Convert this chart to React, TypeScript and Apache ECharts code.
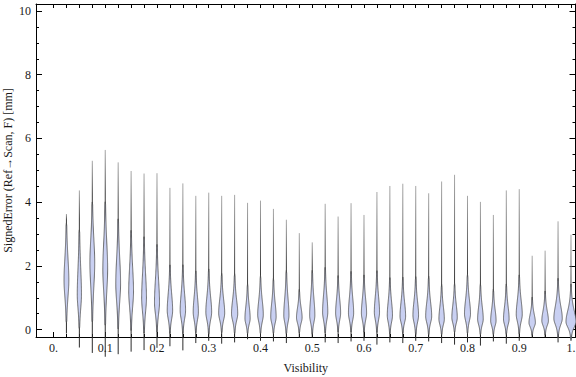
import React, { useEffect, useRef } from "react";
import * as echarts from "echarts";

// Violin positions (Visibility)
const visibility = [
  0.025, 0.05, 0.075, 0.1, 0.125, 0.15, 0.175, 0.2, 0.225, 0.25,
  0.275, 0.3, 0.325, 0.35, 0.375, 0.4, 0.425, 0.45, 0.475, 0.5,
  0.525, 0.55, 0.575, 0.6, 0.625, 0.65, 0.675, 0.7, 0.725, 0.75,
  0.775, 0.8, 0.825, 0.85, 0.875, 0.9, 0.925, 0.95, 0.975, 1.0,
];
// Extremes of each distribution (mm)
const errMax = [
  3.63, 4.37, 5.3, 5.64, 5.25, 4.98, 4.9, 4.91, 4.45, 4.59,
  4.2, 4.3, 4.2, 4.23, 3.98, 4.05, 3.79, 3.45, 3.03, 2.74,
  3.95, 3.55, 3.97, 3.6, 4.32, 4.51, 4.58, 4.51, 4.28, 4.65,
  4.86, 4.2, 4.01, 3.6, 4.37, 4.41, 2.32, 2.48, 3.4, 2.98,
];
const errMin = [
  -0.12, -0.56, -0.73, -0.85, -0.77, -0.69, -0.64, -0.57, -0.52, -0.65,
  -0.42, -0.35, -0.44, -0.4, -0.3, -0.35, -0.37, -0.42, -0.26, -0.25,
  -0.4, -0.42, -0.37, -0.35, -0.47, -0.4, -0.42, -0.35, -0.37, -0.42,
  -0.47, -0.4, -0.5, -0.37, -0.44, -0.35, -0.26, -0.24, -0.4, -0.3,
];
// Mode (densest value) of each distribution (mm)
const errMode = [
  1.55, 1.1, 2.1, 1.9, 1.45, 1.2, 1.0, 0.85, 0.6, 0.6,
  0.55, 0.55, 0.52, 0.5, 0.35, 0.47, 0.4, 0.45, 0.38, 0.45,
  0.55, 0.52, 0.52, 0.52, 0.55, 0.45, 0.42, 0.45, 0.42, 0.33,
  0.38, 0.5, 0.33, 0.28, 0.33, 0.48, 0.22, 0.28, 0.35, 0.25,
];
// Relative peak density
const densityPeak = [
  2.4, 2.1, 2.4, 2.4, 2.4, 2.4, 2.4, 2.5, 2.7, 2.7,
  2.6, 2.9, 3.0, 3.1, 2.6, 2.8, 2.7, 2.6, 2.8, 2.6,
  2.6, 2.5, 2.6, 2.6, 2.6, 2.6, 2.8, 2.8, 3.0, 2.7,
  2.7, 3.0, 2.8, 2.7, 2.8, 3.0, 3.2, 3.3, 4.2, 5.0,
];
// Spread below / above the mode (mm)
const spreadLow = [
  0.6, 0.5, 0.85, 0.8, 0.65, 0.55, 0.5, 0.4, 0.3, 0.3,
  0.28, 0.28, 0.25, 0.25, 0.2, 0.25, 0.22, 0.25, 0.2, 0.25,
  0.28, 0.25, 0.25, 0.25, 0.27, 0.25, 0.22, 0.25, 0.23, 0.2,
  0.2, 0.25, 0.2, 0.18, 0.2, 0.25, 0.15, 0.17, 0.22, 0.2,
];
const spreadHigh = [
  0.8, 0.95, 0.85, 0.95, 0.9, 0.85, 0.85, 0.8, 0.6, 0.6,
  0.55, 0.55, 0.5, 0.5, 0.45, 0.5, 0.5, 0.6, 0.35, 0.6,
  0.6, 0.5, 0.55, 0.5, 0.55, 0.5, 0.5, 0.5, 0.5, 0.45,
  0.45, 0.5, 0.45, 0.4, 0.45, 0.5, 0.3, 0.35, 0.45, 0.4,
];

const xTickValues = [0, 0.1, 0.2, 0.3, 0.4, 0.5, 0.6, 0.7, 0.8, 0.9, 1.0];
const xTickLabels = ["0.", "0.1", "0.2", "0.3", "0.4", "0.5", "0.6", "0.7", "0.8", "0.9", "1."];
const xMinorValues = [0, ...visibility];
const yTickValues = [0, 2, 4, 6, 8, 10];
const yMinorValues = [
  0, 0.5, 1, 1.5, 2, 2.5, 3, 3.5, 4, 4.5, 5, 5.5, 6, 6.5, 7, 7.5, 8, 8.5, 9, 9.5, 10,
];

const FONT = "'Liberation Serif', 'DejaVu Serif', serif";

export default function App() {
  const ref = useRef<HTMLDivElement>(null);
  useEffect(() => {
    if (!ref.current) return;
    const chart = echarts.init(ref.current, undefined, { renderer: "svg" });
    const data = visibility.map((v, i) => [
      v, errMin[i], errMax[i], errMode[i], densityPeak[i], spreadLow[i], spreadHigh[i],
    ]);
    const X_MIN = -0.0338;
    const X_MAX = 1.0087;
    const Y_MIN = -0.23;
    const Y_MAX = 10.22;
    const frameLine = { show: true, lineStyle: { color: "#000", width: 1 } };
    const baseX = { type: "value", min: X_MIN, max: X_MAX, splitLine: { show: false } };
    const baseY = { type: "value", min: Y_MIN, max: Y_MAX, splitLine: { show: false } };
    const option: any = {
      animation: false,
      grid: {
        left: 36, right: 0.5, top: 4, bottom: 40,
        containLabel: false, outerBoundsMode: "none",
      },
      xAxis: [
        {
          ...baseX,
          position: "bottom",
          axisLine: { ...frameLine, onZero: false },
          axisTick: { show: true, inside: true, length: 5, customValues: xTickValues, lineStyle: { color: "#000" } },
          axisLabel: {
            show: true,
            customValues: xTickValues,
            margin: 5,
            fontFamily: FONT,
            fontSize: 12,
            color: "#1a1a1a",
            formatter: (val: number) => {
              const idx = xTickValues.findIndex((t) => Math.abs(t - val) < 1e-6);
              return idx >= 0 ? xTickLabels[idx] : "";
            },
          },
          name: "Visibility",
          nameLocation: "middle",
          nameGap: 25,
          nameMoveOverlap: false,
          nameTextStyle: { fontFamily: FONT, fontSize: 12, color: "#1a1a1a" },
        },
        {
          ...baseX,
          position: "bottom",
          axisLine: { show: false, onZero: false },
          axisTick: { show: true, inside: true, length: 3, customValues: xMinorValues, lineStyle: { color: "#000" } },
          axisLabel: { show: false },
        },
        {
          ...baseX,
          position: "top",
          axisLine: { ...frameLine, onZero: false },
          axisTick: { show: true, inside: true, length: 4, customValues: xMinorValues, lineStyle: { color: "#000" } },
          axisLabel: { show: false },
        },
      ],
      yAxis: [
        {
          ...baseY,
          position: "left",
          axisLine: { ...frameLine, onZero: false },
          axisTick: { show: true, inside: true, length: 6, customValues: yTickValues, lineStyle: { color: "#000" } },
          axisLabel: {
            show: true,
            customValues: yTickValues,
            margin: 5,
            fontFamily: FONT,
            fontSize: 12,
            color: "#1a1a1a",
          },
          name: "SignedError (Ref\u2192Scan, F) [mm]",
          nameLocation: "middle",
          nameGap: 22,
          nameMoveOverlap: false,
          nameTextStyle: { fontFamily: FONT, fontSize: 12, color: "#1a1a1a" },
        },
        {
          ...baseY,
          position: "left",
          axisLine: { show: false, onZero: false },
          axisTick: { show: true, inside: true, length: 3, customValues: yMinorValues, lineStyle: { color: "#000" } },
          axisLabel: { show: false },
        },
        {
          ...baseY,
          position: "right",
          axisLine: { ...frameLine, onZero: false },
          axisTick: { show: true, inside: true, length: 6, customValues: yTickValues, lineStyle: { color: "#000" } },
          axisLabel: { show: false },
        },
        {
          ...baseY,
          position: "right",
          axisLine: { show: false, onZero: false },
          axisTick: { show: true, inside: true, length: 3, customValues: yMinorValues, lineStyle: { color: "#000" } },
          axisLabel: { show: false },
        },
      ],
      series: [
        {
          type: "custom",
          xAxisIndex: 0,
          yAxisIndex: 0,
          clip: false,
          data,
          renderItem: (params: any, api: any) => {
            const x = api.value(0);
            const lo = api.value(1);
            const hi = api.value(2);
            const mode = api.value(3);
            const peak = api.value(4);
            const sL = api.value(5);
            const sH = api.value(6);
            const cx = api.coord([x, 0])[0];
            const yPx = (v: number) => api.coord([x, v])[1];
            const N = 200;
            const right: number[][] = [];
            const left: number[][] = [];
            for (let i = 0; i <= N; i++) {
              const v = lo + ((hi - lo) * i) / N;
              const s = v < mode ? sL : sH;
              const z = (v - mode) / s;
              const w = peak * Math.pow(1 + (z * z) / 4, -2.5);
              if (w > 0.35) {
                right.push([cx + w, yPx(v)]);
                left.unshift([cx - w, yPx(v)]);
              }
            }
            const yTop = yPx(hi);
            const yBot = yPx(lo);
            let off = (yPx(mode + 2.5 * sH) - yTop) / (yBot - yTop);
            off = Math.max(0.05, Math.min(0.95, off));
            const grad = new echarts.graphic.LinearGradient(
              0, yTop, 0, yBot,
              [
                { offset: 0, color: "#a8a8a8" },
                { offset: off, color: "#3a3a3a" },
                { offset: 1, color: "#2a2a2a" },
              ],
              true
            );
            const children: any[] = [
              {
                type: "line",
                shape: { x1: cx, y1: yTop, x2: cx, y2: yBot },
                style: { stroke: grad, lineWidth: 1 },
              },
            ];
            if (right.length > 1) {
              const first = right[0];
              const last = right[right.length - 1];
              const pts = [
                [cx, first[1] + 1.5],
                ...right,
                [cx, last[1] - 3],
                ...left,
              ];
              children.push({
                type: "polygon",
                shape: { points: pts },
                style: { fill: "#c9d0f2", stroke: "#4a4a4a", lineWidth: 0.8 },
              });
            }
            return { type: "group", children };
          },
        },
      ],
    };
    chart.setOption(option);
    return () => chart.dispose();
  }, []);
  return (
    <div
      ref={ref}
      style={{ position: "absolute", left: 0, top: 0, width: 576, height: 377, background: "#fff" }}
    />
  );
}
